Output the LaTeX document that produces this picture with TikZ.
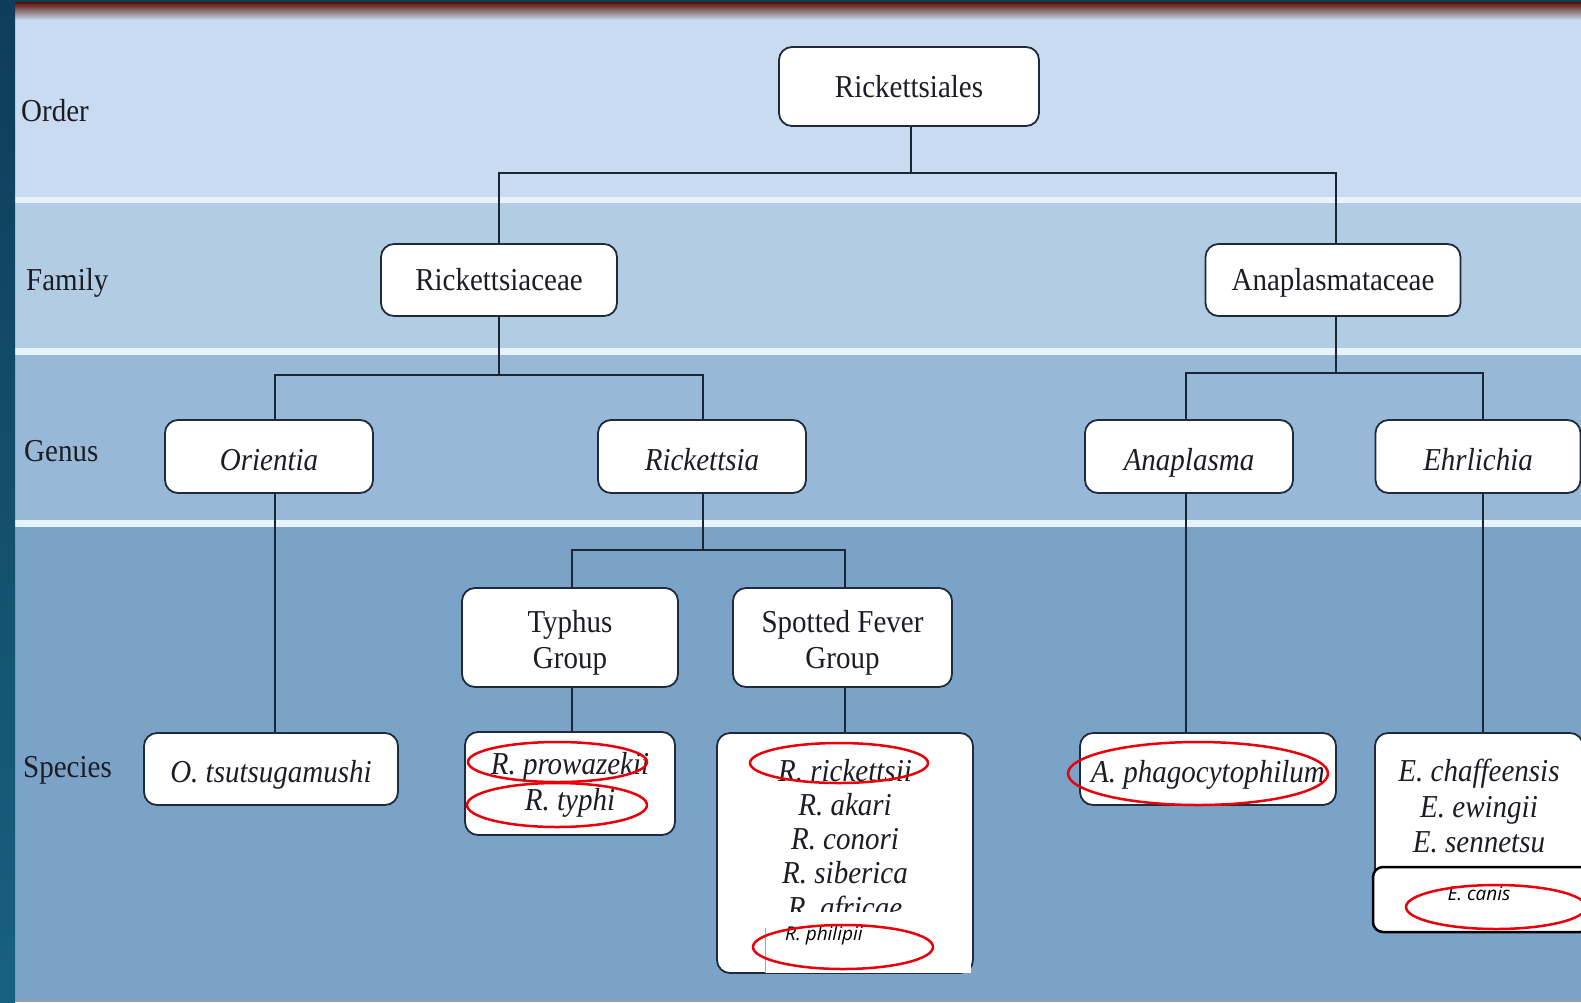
\documentclass[tikz,border=0pt]{standalone}
\usepackage{fontspec}
\usepackage{graphicx}
\setmainfont{Liberation Serif}
\newfontfamily\notefont{Open Sans}
\newcommand\tall[1]{\scalebox{1}[1.1]{#1}}
\newcommand\lines[1]{\tall{\begin{tabular}{@{}c@{}}#1\end{tabular}}}
% stacked lines, shifted inside the box while keeping their natural size
\newcommand\wide[2]{\raisebox{#1}[\height][\depth]{\fontsize{29}{32.5}\selectfont\lines{#2}}}

\definecolor{stripdark}{HTML}{0E3D5A}
\definecolor{striplight}{HTML}{17617F}
\definecolor{bannerred}{HTML}{5A1408}
\definecolor{bannerpink}{HTML}{E9C6BE}
\definecolor{bandA}{HTML}{C9DBF0}
\definecolor{bandB}{HTML}{B2CCE4}
\definecolor{bandC}{HTML}{98B8D7}
\definecolor{bandD}{HTML}{7BA3C8}
\definecolor{bandedge}{HTML}{8C9DBF}
\definecolor{seam}{HTML}{E6F3FA}
\definecolor{boxc}{HTML}{1E2B3C}
\definecolor{linec}{HTML}{1B2635}
\definecolor{textc}{HTML}{1C1C24}
\definecolor{ringred}{HTML}{E8000A}

\tikzset{
  txt/.style={font=\fontsize{29}{31}\selectfont, text=textc},
  taxbox/.style={draw=boxc, line width=1.8pt, fill=white, rounded corners=13pt,
                 inner sep=0pt, txt},
  % single-line boxes: capitals centred in the box
  capmid/.style={text height=21pt, text depth=0pt},
  % italic names sit a little low in their boxes
  caplow/.style={text height=27pt, text depth=0pt},
  boxsize/.style 2 args={minimum width=#1pt, minimum height=#2pt},
  link/.style={draw=linec, line width=2pt},
  redring/.style={draw=ringred, line width=2.5pt},
  level/.style={txt, anchor=west, inner sep=0pt, capmid},
  note/.style={font=\notefont\itshape\fontsize{19}{21}\selectfont, text=black, inner sep=0pt},
}

\begin{document}
\begin{tikzpicture}[x=1pt, y=-1pt]
\useasboundingbox (0,0) rectangle (1581,1002);

% rank bands
\fill[bandA] (0,0) rectangle (1581,197);
\fill[seam]  (0,197) rectangle (1581,203);
\fill[bandB] (0,203) rectangle (1581,348);
\fill[seam]  (0,348) rectangle (1581,355);
\fill[bandC] (0,355) rectangle (1581,520);
\fill[seam]  (0,520) rectangle (1581,527);
\fill[bandD] (0,527) rectangle (1581,1002);
\fill[bandedge] (0,999) rectangle (1581,1002);

% top banner
\fill[stripdark] (0,0) rectangle (1581,2.5);
\shade[top color=bannerred, middle color=bannerpink, bottom color=bandA]
  (0,2.5) rectangle (1581,20);

% left edge strip
\shade[top color=stripdark, bottom color=striplight] (0,0) rectangle (15,1002);

% rank labels
\node[level] (lorder)   at (21,111)   {\tall{Order}};
\node[level] (lfamily)  at (26,279.5) {\tall{Family}};
\node[level] (lgenus)   at (24,451)   {\tall{Genus}};
\node[level] (lspecies) at (23,767)   {\tall{Species}};

% order and families
\node[taxbox, capmid, boxsize={260}{79}] (rales) at (909,86.5) {\tall{Rickettsiales}};
\node[taxbox, capmid, boxsize={236}{72}] (rceae) at (499,280)  {\tall{Rickettsiaceae}};
\node[taxbox, capmid, boxsize={255}{72}] (aceae) at (1333,280) {\tall{Anaplasmataceae}};

% genera
\node[taxbox, caplow, boxsize={208}{73}] (orientia)   at (269,456.5)  {\tall{\itshape Orientia}};
\node[taxbox, caplow, boxsize={208}{73}] (rickettsia) at (702,456.5)  {\tall{\itshape Rickettsia}};
\node[taxbox, caplow, boxsize={208}{73}] (anaplasma)  at (1189,456.5) {\tall{\itshape Anaplasma}};
\node[taxbox, caplow, boxsize={205}{73}] (ehrlichia)  at (1478,456.5) {\tall{\itshape Ehrlichia}};

% Rickettsia groups
\node[taxbox, boxsize={216}{99}] (typhus)  at (570,637.5)   {\wide{-6pt}{Typhus\\Group}};
\node[taxbox, boxsize={219}{99}] (spotted) at (842.5,637.5) {\wide{-6pt}{Spotted Fever\\Group}};

% species
\node[taxbox, caplow, boxsize={254}{72}] (otsu) at (271,769) {\tall{\itshape O. tsutsugamushi}};
\node[taxbox, boxsize={210}{103}] (rtyph) at (570,783.5)
  {\wide{-2pt}{\itshape R. prowazekii\\\itshape R. typhi}};
\node[taxbox, boxsize={256}{240}] (spotsp) at (845,853) {};
\node[txt, inner sep=0pt] (spotlist) at (845,843)
  {\lines{\itshape R. rickettsii\\\itshape R. akari\\\itshape R. conori\\\itshape R. siberica\\\itshape R. africae}};
\node[taxbox, caplow, boxsize={256}{72}] (aphag) at (1208,769) {\tall{\itshape A. phagocytophilum}};
\node[taxbox, boxsize={208}{150}] (ehrsp) at (1479,808)
  {\wide{-2pt}{\itshape E. chaffeensis\\\itshape E. ewingii\\\itshape E. sennetsu}};

% added E. canis box
\node[draw=black, line width=2.5pt, fill=white, rounded corners=10pt, inner sep=0pt,
      boxsize={217}{65}] (canis) at (1481.5,899.5) {};
\node[note, anchor=base] (canistxt) at (1479,900) {E. canis};

% added R. philipii patch over the bottom of the list
\fill[white] (765,912) rectangle (971,973);
\draw[gray!70, line width=0.8pt] (765,928) -- (765,973);
\node[note, anchor=base west] (philipii) at (785,940) {R. philipii};

% connectors (drops sit slightly off the box centres)
\path ([xshift=2pt]rales.south) ++(0,46) coordinate (forkA);
\draw[link] ([xshift=2pt]rales.south) -- (forkA) -| (rceae.north);
\draw[link] (forkA) -| ([xshift=3pt]aceae.north);

\path (rceae.south) ++(0,58) coordinate (forkB);
\draw[link] (rceae.south) -- (forkB) -| ([xshift=6pt]orientia.north);
\draw[link] (forkB) -| ([xshift=1pt]rickettsia.north);

\path ([xshift=3pt]aceae.south) ++(0,56) coordinate (forkC);
\draw[link] ([xshift=3pt]aceae.south) -- (forkC) -| ([xshift=-3pt]anaplasma.north);
\draw[link] (forkC) -| ([xshift=5pt]ehrlichia.north);

\path ([xshift=1pt]rickettsia.south) ++(0,56) coordinate (forkD);
\draw[link] ([xshift=1pt]rickettsia.south) -- (forkD) -| ([xshift=2pt]typhus.north);
\draw[link] (forkD) -| ([xshift=2pt]spotted.north);

\draw[link] ([xshift=6pt]orientia.south)   -- ([xshift=6pt]orientia.south |- otsu.north);
\draw[link] ([xshift=2pt]typhus.south)     -- ([xshift=2pt]typhus.south |- rtyph.north);
\draw[link] ([xshift=2pt]spotted.south)    -- ([xshift=2pt]spotted.south |- spotsp.north);
\draw[link] ([xshift=-3pt]anaplasma.south) -- ([xshift=-3pt]anaplasma.south |- aphag.north);
\draw[link] ([xshift=5pt]ehrlichia.south)  -- ([xshift=5pt]ehrlichia.south |- ehrsp.north);

% red highlight rings
\draw[redring] (557.5,762) ellipse [x radius=89.5, y radius=20];
\draw[redring] (557,805)   ellipse [x radius=90, y radius=22];
\draw[redring] (839,763)   ellipse [x radius=89, y radius=20];
\draw[redring] (843,947)   ellipse [x radius=90, y radius=22];
\draw[redring] (1198,773.5) ellipse [x radius=130, y radius=31.5];
\draw[redring] (1496,907)  ellipse [x radius=90, y radius=22];
\end{tikzpicture}
\end{document}
